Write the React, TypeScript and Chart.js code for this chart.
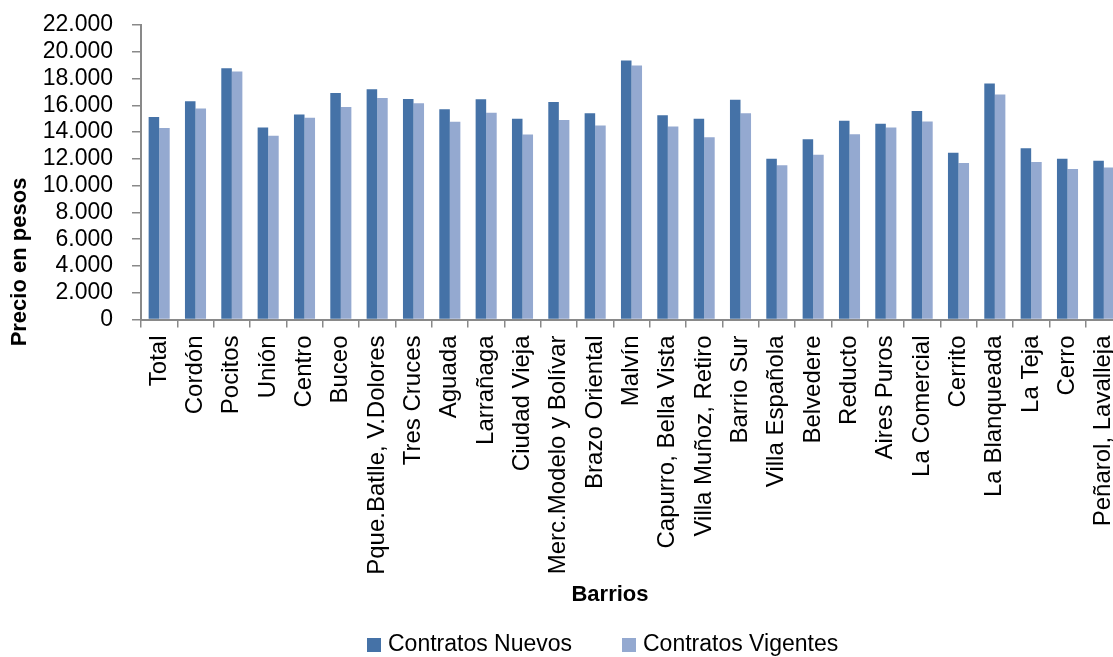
import React, { useEffect, useRef } from "react";
import { Chart, registerables } from "chart.js";

Chart.register(...registerables);

const categories = [
  "Total", "Cordón", "Pocitos", "Unión", "Centro", "Buceo", "Pque.Batlle, V.Dolores",
  "Tres Cruces", "Aguada", "Larrañaga", "Ciudad Vieja", "Merc.Modelo y Bolívar",
  "Brazo Oriental", "Malvín", "Capurro, Bella Vista", "Villa Muñoz, Retiro", "Barrio Sur",
  "Villa Española", "Belvedere", "Reducto", "Aires Puros", "La Comercial", "Cerrito",
  "La Blanqueada", "La Teja", "Cerro", "Peñarol, Lavalleja",
];

const contratosNuevos = [
  15120, 16300, 18770, 14350, 15320, 16920, 17200, 16470, 15700, 16450, 15000, 16250,
  15400, 19350, 15250, 15000, 16425, 12000, 13470, 14850, 14625, 15570, 12450, 17625,
  12800, 12000, 11850,
];

const contratosVigentes = [
  14300, 15770, 18525, 13725, 15075, 15870, 16545, 16150, 14775, 15450, 13820, 14900,
  14500, 18975, 14425, 13620, 15400, 11520, 12300, 13845, 14350, 14800, 11700, 16800,
  11775, 11250, 11350,
];

const yTicksMax = 22000;
const yTicksStep = 2000;

const seriesNames = ["Contratos Nuevos", "Contratos Vigentes"];
const seriesColors = ["#4572A7", "#94A9D0"];
const yTitle = "Precio en pesos";
const xTitle = "Barrios";

const FONT = "'Liberation Sans', Arial, sans-serif";

const fmt = (v: number) => String(v).replace(/\B(?=(\d{3})+(?!\d))/g, ".");

const overlayPlugin = {
  id: "overlay",
  afterDraw(chart: any) {
    const ctx = chart.ctx;
    ctx.save();
    ctx.fillStyle = "#000";
    ctx.font = `bold 22px ${FONT}`;
    ctx.textAlign = "center";
    ctx.textBaseline = "middle";
    ctx.fillText(xTitle, 610, 595);
    ctx.save();
    ctx.translate(20, 262);
    ctx.rotate(-Math.PI / 2);
    ctx.fillText(yTitle, 0, 0);
    ctx.restore();
    // legend
    ctx.font = `23px ${FONT}`;
    ctx.textAlign = "left";
    const boxes = [367, 622];
    seriesNames.forEach((name, i) => {
      ctx.fillStyle = seriesColors[i];
      ctx.fillRect(boxes[i], 638, 14, 14);
      ctx.fillStyle = "#000";
      ctx.fillText(name, boxes[i] + 21, 645);
    });
    ctx.restore();
  },
};

export default function App() {
  const ref = useRef<HTMLCanvasElement | null>(null);
  useEffect(() => {
    if (!ref.current) return;
    const axisColor = "#898989";
    const chart = new Chart(ref.current, {
      type: "bar",
      data: {
        labels: categories,
        datasets: [
          {
            label: seriesNames[0],
            data: contratosNuevos,
            backgroundColor: seriesColors[0],
            categoryPercentage: 0.58,
            barPercentage: 1.0,
          },
          {
            label: seriesNames[1],
            data: contratosVigentes,
            backgroundColor: seriesColors[1],
            categoryPercentage: 0.58,
            barPercentage: 1.0,
          },
        ],
      },
      options: {
        responsive: false,
        animation: false,
        layout: { padding: { left: 0, right: 18, top: 25, bottom: 0 } },
        plugins: {
          legend: { display: false },
          tooltip: { enabled: false },
          title: { display: false },
        },
        scales: {
          x: {
            grid: {
              offset: true,
              drawOnChartArea: false,
              drawTicks: true,
              tickLength: 8,
              color: axisColor,
              lineWidth: 1.5,
            },
            border: { display: true, color: axisColor, width: 2 },
            ticks: {
              autoSkip: false,
              maxRotation: 90,
              minRotation: 90,
              padding: 8,
              color: "#000",
              font: { family: FONT, size: 24 },
            },
            afterFit: (scale: any) => {
              scale.height = 337.5;
              scale.paddingLeft = 0;
              scale.paddingRight = 0;
            },
          },
          y: {
            min: 0,
            max: yTicksMax,
            grid: {
              drawOnChartArea: false,
              drawTicks: true,
              tickLength: 9,
              color: axisColor,
              lineWidth: 1.5,
            },
            border: { display: true, color: axisColor, width: 2 },
            ticks: {
              stepSize: yTicksStep,
              autoSkip: false,
              padding: 19,
              color: "#000",
              font: { family: FONT, size: 23 },
              callback: (v: any) => fmt(Number(v)),
            },
            afterFit: (scale: any) => {
              scale.width = 141;
              scale.paddingTop = 0;
              scale.paddingBottom = 0;
            },
          },
        },
      },
      plugins: [overlayPlugin],
    });
    return () => chart.destroy();
  }, []);

  return (
    <div
      style={{
        position: "absolute",
        left: 0,
        top: 0,
        width: 1113,
        height: 657,
        overflow: "hidden",
        background: "#fff",
      }}
    >
      <canvas ref={ref} width={1140} height={657} style={{ display: "block", width: 1140, height: 657 }} />
    </div>
  );
}
